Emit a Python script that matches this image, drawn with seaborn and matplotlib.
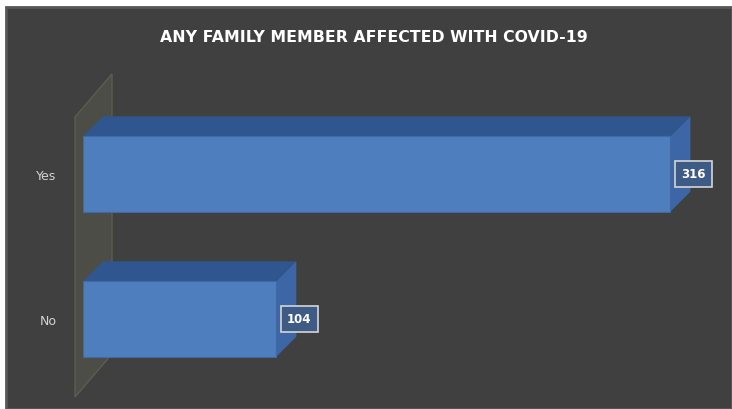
import matplotlib
matplotlib.use("Agg")
import matplotlib.pyplot as plt
from matplotlib.patches import Polygon, Rectangle
import seaborn as sns
import pandas as pd

# Survey responses
categories = ["Yes", "No"]
counts = [316, 104]
title = "ANY FAMILY MEMBER AFFECTED WITH COVID-19"

BG = "#404040"
FRONT = "#4e7ebd"
TOP = "#2f568f"
SIDE = "#3c66a5"
WALL = "#4d4d47"

sns.set_theme(style="white")
plt.rcParams["font.family"] = ["DejaVu Sans"]

W, H = 732, 410
fig = plt.figure(figsize=(W / 100, H / 100), dpi=100, facecolor="white")

# dark chart area with a thin lighter frame
fig.patches.append(Rectangle((6 / W, 0), 1 - 6 / W, 1 - 8 / H, transform=fig.transFigure,
                             facecolor=BG, edgecolor="#575757", lw=2, zorder=0))

# slanted back wall of the 3-D plot
wall = [(75, 118), (112, 75), (112, 355), (75, 398)]
fig.patches.append(Polygon([(x / W, 1 - y / H) for x, y in wall], closed=True,
                           transform=fig.transFigure, facecolor=WALL,
                           edgecolor="#5c5c52", lw=1, zorder=1))

ax = fig.add_axes([83 / W, 10 / H, 632 / W, 340 / H])
ax.set_zorder(2)
ax.set_facecolor("none")

df = pd.DataFrame({"category": categories, "count": counts})
sns.barplot(data=df, x="count", y="category", orient="h", color=FRONT,
            saturation=1, width=0.52, ax=ax, zorder=3,
            edgecolor="#3f6aa5", linewidth=0.8)

ax.set_xlim(0, 340)
ax.set_ylim(1 + 80 / 145, -115 / 145)

DX, DY = 20, 20  # depth of the 3-D extrusion, in pixels


def shift(x, y, dx, dy):
    px, py = ax.transData.transform((x, y))
    return tuple(ax.transData.inverted().transform((px + dx, py + dy)))


for patch, value in zip(list(ax.patches), counts):
    x0, y0 = patch.get_x(), patch.get_y()
    x1, y1 = x0 + patch.get_width(), y0 + patch.get_height()
    # y axis is inverted: y0 is the upper edge
    top = [(x0, y0), (x1, y0), shift(x1, y0, DX, DY), shift(x0, y0, DX, DY)]
    side = [(x1, y0), (x1, y1), shift(x1, y1, DX, DY), shift(x1, y0, DX, DY)]
    ax.add_patch(Polygon(top, closed=True, facecolor=TOP, edgecolor="none", zorder=2, clip_on=False))
    ax.add_patch(Polygon(side, closed=True, facecolor=SIDE, edgecolor="none", zorder=2, clip_on=False))
    lx, ly = shift(x1, (y0 + y1) / 2, 23, 0)
    ax.text(lx, ly, str(value), ha="center", va="center", color="white",
            fontsize=8.5, fontweight="bold", zorder=5,
            bbox=dict(boxstyle="square,pad=0.55", facecolor="#3e5b86",
                      edgecolor="#d5d5d5", lw=1.2))

ax.set_xlabel("")
ax.set_ylabel("")
ax.set_xticks([])
ax.tick_params(axis="y", length=0, pad=19, labelcolor="#d4d4d4", labelsize=9)
for s in ax.spines.values():
    s.set_visible(False)

fig.text(374 / W, 1 - 37 / H, title, ha="center", va="center", color="white",
         fontsize=11.3, fontweight="bold")

fig.savefig("out.png", dpi=100, facecolor=fig.get_facecolor())
